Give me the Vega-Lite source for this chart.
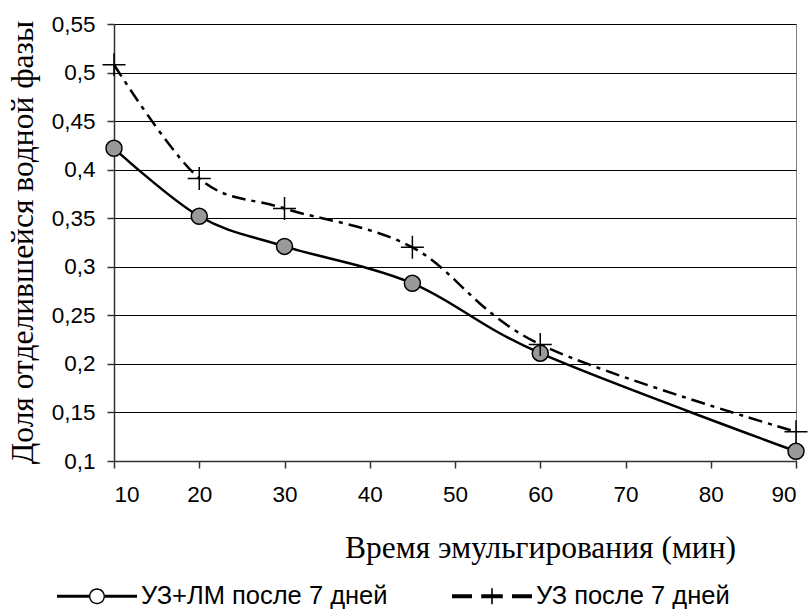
{
  "$schema": "https://vega.github.io/schema/vega-lite/v6.json",
  "autosize": {"type": "none"},
  "width": 682,
  "height": 437,
  "padding": {"left": 114, "top": 24, "right": 16, "bottom": 148},
  "background": "white",
  "config": {
    "view": {"stroke": "#808080", "strokeWidth": 1},
    "axis": {
      "labelFont": "Liberation Sans",
      "labelFontSize": 22.5,
      "labelColor": "#000",
      "titleFont": "Liberation Serif",
      "titleFontSize": 31.5,
      "titleFontWeight": "normal",
      "titleColor": "#000",
      "domainColor": "#333",
      "domainWidth": 1.5,
      "tickColor": "#333",
      "tickWidth": 1.5,
      "tickSize": 7
    },
    "legend": {
      "labelFont": "Liberation Sans",
      "labelFontSize": 25.5,
      "labelColor": "#000",
      "labelLimit": 0
    }
  },
  "data": {
    "values": [
      {"t": 10, "v": 0.422, "series": "УЗ+ЛМ после 7 дней"},
      {"t": 20, "v": 0.352, "series": "УЗ+ЛМ после 7 дней"},
      {"t": 30, "v": 0.321, "series": "УЗ+ЛМ после 7 дней"},
      {"t": 45, "v": 0.283, "series": "УЗ+ЛМ после 7 дней"},
      {"t": 60, "v": 0.211, "series": "УЗ+ЛМ после 7 дней"},
      {"t": 90, "v": 0.11, "series": "УЗ+ЛМ после 7 дней"},
      {"t": 10, "v": 0.508, "series": "УЗ после 7 дней"},
      {"t": 20, "v": 0.391, "series": "УЗ после 7 дней"},
      {"t": 30, "v": 0.36, "series": "УЗ после 7 дней"},
      {"t": 45, "v": 0.32, "series": "УЗ после 7 дней"},
      {"t": 60, "v": 0.22, "series": "УЗ после 7 дней"},
      {"t": 90, "v": 0.13, "series": "УЗ после 7 дней"}
    ]
  },
  "encoding": {
    "x": {
      "field": "t", "type": "quantitative",
      "scale": {"domain": [10, 90], "nice": false, "zero": false},
      "axis": {
        "title": "Время эмульгирования (мин)",
        "values": [10, 20, 30, 40, 50, 60, 70, 80, 90],
        "grid": false,
        "labelPadding": 15,
        "titleX": 426, "titleY": 96, "titleAlign": "center", "titleBaseline": "alphabetic", "titleAnchor": null
      }
    },
    "y": {
      "field": "v", "type": "quantitative",
      "scale": {"domain": [0.1, 0.55], "nice": false, "zero": false},
      "axis": {
        "title": "Доля отделившейся водной фазы",
        "values": [0.1, 0.15, 0.2, 0.25, 0.3, 0.35, 0.4, 0.45, 0.5, 0.55],
        "labelExpr": "replace(format(datum.value, '.2~f'), '.', ',')",
        "grid": true, "gridColor": "#000", "gridWidth": 1, "gridOpacity": 1,
        "labelPadding": 12,
        "titleX": -91, "titleY": 218, "titleAngle": -90, "titleAlign": "center", "titleBaseline": "middle", "titleAnchor": null
      }
    }
  },
  "layer": [
    {
      "transform": [{"filter": "datum.series === 'УЗ+ЛМ после 7 дней'"}],
      "mark": {"type": "line", "interpolate": "cardinal", "color": "#000", "strokeWidth": 2.5}
    },
    {
      "transform": [{"filter": "datum.series === 'УЗ после 7 дней'"}],
      "mark": {"type": "line", "interpolate": "cardinal", "color": "#000", "strokeWidth": 2.5, "strokeDash": [14, 6, 4, 6]}
    },
    {
      "transform": [{"filter": "datum.series === 'УЗ+ЛМ после 7 дней'"}],
      "mark": {"type": "point", "shape": "circle", "filled": true, "fill": "#999999", "stroke": "#000", "strokeWidth": 1.5, "size": 256, "opacity": 1}
    },
    {
      "transform": [{"filter": "datum.series === 'УЗ после 7 дней'"}],
      "mark": {"type": "point", "shape": "M-1,0H1M0,-1V1", "filled": false, "stroke": "#000", "strokeWidth": 1.5, "size": 529, "opacity": 1}
    },
    {
      "mark": {"type": "point", "filled": true, "fill": "#000", "size": 6400, "opacity": 0},
      "encoding": {
        "shape": {
          "field": "series", "type": "nominal",
          "scale": {
            "domain": ["УЗ+ЛМ после 7 дней", "УЗ после 7 дней"],
            "range": [
              "M-1,-0.0375H-0.2V0.0375H-1ZM0.2,-0.0375H1V0.0375H0.2ZM-0.2,0A0.2,0.2 0 1,1 0.2,0A0.2,0.2 0 1,1 -0.2,0ZM-0.165,0A0.165,0.165 0 1,0 0.165,0A0.165,0.165 0 1,0 -0.165,0Z",
              "M-1,-0.05H-0.5V0.05H-1ZM-0.27,-0.05H0.27V0.05H-0.27ZM0.5,-0.05H1V0.05H0.5ZM-0.02,-0.2H0.02V0.2H-0.02Z"
            ]
          },
          "legend": {
            "title": null,
            "orient": "none",
            "legendX": -57,
            "legendY": 532,
            "direction": "horizontal",
            "columns": 2,
            "columnPadding": 64,
            "labelOffset": 4,
            "padding": 0,
            "symbolSize": 6400,
            "symbolFillColor": "#000",
            "symbolStrokeWidth": 0,
            "symbolOpacity": 1
          }
        }
      }
    }
  ]
}
